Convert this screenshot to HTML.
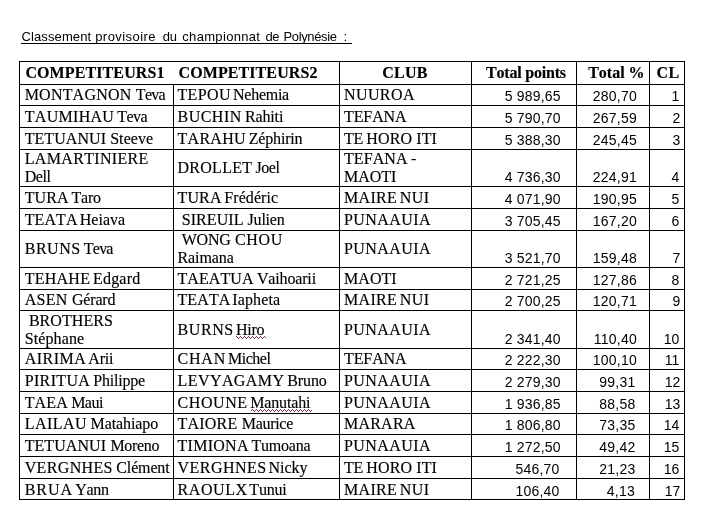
<!DOCTYPE html>
<html lang="fr"><head><meta charset="utf-8"><title>Classement provisoire</title><style>
html,body{margin:0;padding:0;background:#fff;}
body{width:713px;height:529px;position:relative;overflow:hidden;}
.ln{position:absolute;background:#000;}
.sq{position:absolute;left:0;top:0;}
.t{position:absolute;white-space:pre;line-height:20px;color:#000;}
.sf{font-family:"Liberation Serif",serif;font-size:16px;-webkit-text-stroke:0.15px #000;font-kerning:none;}
.b{font-weight:bold;}
.ss{font-family:"Liberation Sans",sans-serif;}
.nm{font-size:14px;}
.tt{font-size:13px;}
</style></head><body>
<div class="ln" style="left:19px;top:61px;width:666px;height:1px"></div>
<div class="ln" style="left:19px;top:84px;width:666px;height:1px"></div>
<div class="ln" style="left:19px;top:105px;width:666px;height:1px"></div>
<div class="ln" style="left:19px;top:127px;width:666px;height:1px"></div>
<div class="ln" style="left:19px;top:149px;width:666px;height:1px"></div>
<div class="ln" style="left:19px;top:186px;width:666px;height:1px"></div>
<div class="ln" style="left:19px;top:208px;width:666px;height:1px"></div>
<div class="ln" style="left:19px;top:230px;width:666px;height:1px"></div>
<div class="ln" style="left:19px;top:267px;width:666px;height:1px"></div>
<div class="ln" style="left:19px;top:289px;width:666px;height:1px"></div>
<div class="ln" style="left:19px;top:310px;width:666px;height:1px"></div>
<div class="ln" style="left:19px;top:348px;width:666px;height:1px"></div>
<div class="ln" style="left:19px;top:369px;width:666px;height:1px"></div>
<div class="ln" style="left:19px;top:391px;width:666px;height:1px"></div>
<div class="ln" style="left:19px;top:413px;width:666px;height:1px"></div>
<div class="ln" style="left:19px;top:434px;width:666px;height:1px"></div>
<div class="ln" style="left:19px;top:456px;width:666px;height:1px"></div>
<div class="ln" style="left:19px;top:478px;width:666px;height:1px"></div>
<div class="ln" style="left:19px;top:499px;width:666px;height:1px"></div>
<div class="ln" style="left:19px;top:61px;width:1px;height:439px"></div>
<div class="ln" style="left:173px;top:84px;width:1px;height:416px"></div>
<div class="ln" style="left:339px;top:61px;width:1px;height:439px"></div>
<div class="ln" style="left:471px;top:61px;width:1px;height:439px"></div>
<div class="ln" style="left:576px;top:61px;width:1px;height:439px"></div>
<div class="ln" style="left:649px;top:61px;width:1px;height:439px"></div>
<div class="ln" style="left:684px;top:61px;width:1px;height:439px"></div>
<span class="t ss tt" style="top:26.50px;left:21.40px;letter-spacing:0.126px;">Classement</span>
<span class="t ss tt" style="top:26.50px;left:95.20px;letter-spacing:0.444px;">provisoire</span>
<span class="t ss tt" style="top:26.50px;left:162.80px;letter-spacing:-0.284px;">du</span>
<span class="t ss tt" style="top:26.50px;left:182.30px;letter-spacing:0.322px;">championnat</span>
<span class="t ss tt" style="top:26.50px;left:265.40px;letter-spacing:-0.434px;">de</span>
<span class="t ss tt" style="top:26.50px;left:283.50px;letter-spacing:-0.364px;">Polynésie</span>
<span class="t ss tt" style="top:26.50px;left:343.60px;letter-spacing:0.775px;">:</span>
<span class="t sf b" style="top:63.00px;left:25.40px;letter-spacing:0.108px;">COMPETITEURS1</span>
<span class="t sf b" style="top:63.00px;left:178.50px;letter-spacing:0.093px;">COMPETITEURS2</span>
<span class="t sf b" style="top:63.00px;left:382.30px;letter-spacing:0.212px;">CLUB</span>
<span class="t sf b" style="top:63.00px;left:486.00px;letter-spacing:-0.204px;">Total points</span>
<span class="t sf b" style="top:63.00px;left:588.20px;letter-spacing:-0.008px;">Total %</span>
<span class="t sf b" style="top:63.00px;left:656.60px;letter-spacing:0.233px;">CL</span>
<span class="t sf" style="top:85.00px;left:24.70px;"><span style="letter-spacing:0.206px">MONTAGNON</span><span style="letter-spacing:0.406px"> </span><span style="letter-spacing:-0.719px">Teva</span></span>
<span class="t sf" style="top:85.00px;left:177.50px;"><span style="letter-spacing:0.350px">TEPOU</span><span style="letter-spacing:-1.750px"> </span><span style="letter-spacing:-0.267px">Nehemia</span></span>
<span class="t sf" style="top:85.00px;left:344.00px;letter-spacing:0.400px;">NUUROA</span>
<span class="t ss nm" style="top:86.00px;right:152.21px;letter-spacing:0.190px;">5 989,65</span>
<span class="t ss nm" style="top:86.00px;right:76.06px;letter-spacing:0.240px;">280,70</span>
<span class="t ss nm" style="top:86.00px;right:33.70px;letter-spacing:0.000px;">1</span>
<span class="t sf" style="top:107.00px;left:24.70px;"><span style="letter-spacing:0.305px">TAUMIHAU</span><span style="letter-spacing:-1.030px"> </span><span style="letter-spacing:-0.571px">Teva</span></span>
<span class="t sf" style="top:107.00px;left:177.50px;"><span style="letter-spacing:0.483px">BUCHIN</span><span style="letter-spacing:-0.717px"> </span><span style="letter-spacing:-0.157px">Rahiti</span></span>
<span class="t sf" style="top:107.00px;left:344.00px;letter-spacing:-0.100px;">TEFANA</span>
<span class="t ss nm" style="top:108.00px;right:152.21px;letter-spacing:0.190px;">5 790,70</span>
<span class="t ss nm" style="top:108.00px;right:76.06px;letter-spacing:0.240px;">267,59</span>
<span class="t ss nm" style="top:108.00px;right:32.70px;letter-spacing:0.000px;">2</span>
<span class="t sf" style="top:129.00px;left:24.70px;"><span style="letter-spacing:0.062px">TETUANUI</span><span style="letter-spacing:0.062px"> </span><span style="letter-spacing:0.087px">Steeve</span></span>
<span class="t sf" style="top:129.00px;left:177.50px;"><span style="letter-spacing:0.283px">TARAHU</span><span style="letter-spacing:-1.117px"> </span><span style="letter-spacing:-0.183px">Zéphirin</span></span>
<span class="t sf" style="top:129.00px;left:344.00px;"><span style="letter-spacing:-0.250px">TE</span><span style="letter-spacing:-0.750px"> </span><span style="letter-spacing:0.121px">HORO ITI</span></span>
<span class="t ss nm" style="top:130.00px;right:152.21px;letter-spacing:0.190px;">5 388,30</span>
<span class="t ss nm" style="top:130.00px;right:76.06px;letter-spacing:0.240px;">245,45</span>
<span class="t ss nm" style="top:130.00px;right:32.70px;letter-spacing:0.000px;">3</span>
<span class="t sf" style="top:149.00px;left:24.70px;letter-spacing:0.336px;">LAMARTINIERE</span>
<span class="t sf" style="top:167.00px;left:24.70px;letter-spacing:-0.400px;">Dell</span>
<span class="t sf" style="top:158.00px;left:177.50px;"><span style="letter-spacing:0.271px">DROLLET</span><span style="letter-spacing:-0.729px"> </span><span style="letter-spacing:-0.490px">Joel</span></span>
<span class="t sf" style="top:149.00px;left:344.00px;"><span style="letter-spacing:0.083px">TEFANA</span><span style="letter-spacing:-0.700px"> </span><span style="letter-spacing:0.000px">-</span></span>
<span class="t sf" style="top:167.00px;left:344.00px;letter-spacing:0.000px;">MAOTI</span>
<span class="t ss nm" style="top:167.00px;right:152.21px;letter-spacing:0.190px;">4 736,30</span>
<span class="t ss nm" style="top:167.00px;right:76.06px;letter-spacing:0.240px;">224,91</span>
<span class="t ss nm" style="top:167.00px;right:33.70px;letter-spacing:0.000px;">4</span>
<span class="t sf" style="top:188.00px;left:24.70px;"><span style="letter-spacing:0.125px">TURA</span><span style="letter-spacing:-1.175px"> </span><span style="letter-spacing:-0.242px">Taro</span></span>
<span class="t sf" style="top:188.00px;left:177.50px;"><span style="letter-spacing:0.125px">TURA</span><span style="letter-spacing:-1.275px"> </span><span style="letter-spacing:0.068px">Frédéric</span></span>
<span class="t sf" style="top:188.00px;left:344.00px;"><span style="letter-spacing:0.312px">MAIRE</span><span style="letter-spacing:-1.462px"> </span><span style="letter-spacing:0.450px">NUI</span></span>
<span class="t ss nm" style="top:189.00px;right:152.21px;letter-spacing:0.190px;">4 071,90</span>
<span class="t ss nm" style="top:189.00px;right:76.06px;letter-spacing:0.240px;">190,95</span>
<span class="t ss nm" style="top:189.00px;right:33.70px;letter-spacing:0.000px;">5</span>
<span class="t sf" style="top:210.00px;left:24.70px;"><span style="letter-spacing:0.100px">TEATA</span><span style="letter-spacing:-1.900px"> </span><span style="letter-spacing:0.020px">Heiava</span></span>
<span class="t sf" style="top:210.00px;left:181.70px;"><span style="letter-spacing:0.071px">SIREUIL</span><span style="letter-spacing:0.071px"> </span><span style="letter-spacing:-0.214px">Julien</span></span>
<span class="t sf" style="top:210.00px;left:344.00px;letter-spacing:0.429px;">PUNAAUIA</span>
<span class="t ss nm" style="top:211.00px;right:152.21px;letter-spacing:0.190px;">3 705,45</span>
<span class="t ss nm" style="top:211.00px;right:76.06px;letter-spacing:0.240px;">167,20</span>
<span class="t ss nm" style="top:211.00px;right:33.70px;letter-spacing:0.000px;">6</span>
<span class="t sf" style="top:239.00px;left:24.70px;"><span style="letter-spacing:0.525px">BRUNS</span><span style="letter-spacing:-0.825px"> </span><span style="letter-spacing:-0.800px">Teva</span></span>
<span class="t sf" style="top:230.00px;left:181.70px;"><span style="letter-spacing:-0.208px">WONG</span><span style="letter-spacing:0.258px"> </span><span style="letter-spacing:0.692px">CHOU</span></span>
<span class="t sf" style="top:248.00px;left:177.50px;letter-spacing:-0.100px;">Raimana</span>
<span class="t sf" style="top:239.00px;left:344.00px;letter-spacing:0.429px;">PUNAAUIA</span>
<span class="t ss nm" style="top:248.00px;right:152.21px;letter-spacing:0.190px;">3 521,70</span>
<span class="t ss nm" style="top:248.00px;right:76.06px;letter-spacing:0.240px;">159,48</span>
<span class="t ss nm" style="top:248.00px;right:32.70px;letter-spacing:0.000px;">7</span>
<span class="t sf" style="top:269.00px;left:24.70px;"><span style="letter-spacing:0.253px">TEHAHE</span><span style="letter-spacing:-1.237px"> </span><span style="letter-spacing:0.203px">Edgard</span></span>
<span class="t sf" style="top:269.00px;left:177.50px;"><span style="letter-spacing:0.071px">TAEATUA</span><span style="letter-spacing:-0.629px"> </span><span style="letter-spacing:-0.159px">Vaihoarii</span></span>
<span class="t sf" style="top:269.00px;left:344.00px;letter-spacing:0.050px;">MAOTI</span>
<span class="t ss nm" style="top:270.00px;right:152.21px;letter-spacing:0.190px;">2 721,25</span>
<span class="t ss nm" style="top:270.00px;right:76.06px;letter-spacing:0.240px;">127,86</span>
<span class="t ss nm" style="top:270.00px;right:33.70px;letter-spacing:0.000px;">8</span>
<span class="t sf" style="top:290.00px;left:24.70px;"><span style="letter-spacing:0.292px">ASEN</span><span style="letter-spacing:0.308px"> </span><span style="letter-spacing:-0.175px">Gérard</span></span>
<span class="t sf" style="top:290.00px;left:177.50px;"><span style="letter-spacing:0.100px">TEATA</span><span style="letter-spacing:-2.300px"> </span><span style="letter-spacing:0.167px">Iapheta</span></span>
<span class="t sf" style="top:290.00px;left:344.00px;"><span style="letter-spacing:0.312px">MAIRE</span><span style="letter-spacing:-1.462px"> </span><span style="letter-spacing:0.450px">NUI</span></span>
<span class="t ss nm" style="top:291.00px;right:152.21px;letter-spacing:0.190px;">2 700,25</span>
<span class="t ss nm" style="top:291.00px;right:76.06px;letter-spacing:0.240px;">120,71</span>
<span class="t ss nm" style="top:291.00px;right:32.70px;letter-spacing:0.000px;">9</span>
<span class="t sf" style="top:311.00px;left:28.90px;letter-spacing:0.057px;">BROTHERS</span>
<span class="t sf" style="top:329.00px;left:24.70px;letter-spacing:0.114px;">Stéphane</span>
<span class="t sf" style="top:320.00px;left:177.50px;"><span style="letter-spacing:0.600px">BURNS</span><span style="letter-spacing:-1.800px"> </span><span style="letter-spacing:-0.267px">Hiro</span></span>
<span class="t sf" style="top:320.00px;left:344.00px;letter-spacing:0.429px;">PUNAAUIA</span>
<span class="t ss nm" style="top:329.00px;right:152.21px;letter-spacing:0.190px;">2 341,40</span>
<span class="t ss nm" style="top:329.00px;right:76.06px;letter-spacing:0.240px;">110,40</span>
<span class="t ss nm" style="top:329.00px;right:33.60px;letter-spacing:0.100px;">10</span>
<span class="t sf" style="top:349.00px;left:24.70px;"><span style="letter-spacing:0.483px">AIRIMA</span><span style="letter-spacing:-2.017px"> </span><span style="letter-spacing:-0.161px">Arii</span></span>
<span class="t sf" style="top:349.00px;left:177.50px;"><span style="letter-spacing:0.792px">CHAN</span><span style="letter-spacing:-2.142px"> </span><span style="letter-spacing:-0.445px">Michel</span></span>
<span class="t sf" style="top:349.00px;left:344.00px;letter-spacing:-0.100px;">TEFANA</span>
<span class="t ss nm" style="top:350.00px;right:152.21px;letter-spacing:0.190px;">2 222,30</span>
<span class="t ss nm" style="top:350.00px;right:76.06px;letter-spacing:0.240px;">100,10</span>
<span class="t ss nm" style="top:350.00px;right:33.60px;letter-spacing:0.100px;">11</span>
<span class="t sf" style="top:371.00px;left:24.70px;"><span style="letter-spacing:0.355px">PIRITUA</span><span style="letter-spacing:-1.062px"> </span><span style="letter-spacing:-0.217px">Philippe</span></span>
<span class="t sf" style="top:371.00px;left:177.50px;"><span style="letter-spacing:0.431px">LEVYAGAMY</span><span style="letter-spacing:-1.319px"> </span><span style="letter-spacing:-0.089px">Bruno</span></span>
<span class="t sf" style="top:371.00px;left:344.00px;letter-spacing:0.429px;">PUNAAUIA</span>
<span class="t ss nm" style="top:372.00px;right:152.21px;letter-spacing:0.190px;">2 279,30</span>
<span class="t ss nm" style="top:372.00px;right:77.56px;letter-spacing:0.240px;">99,31</span>
<span class="t ss nm" style="top:372.00px;right:32.60px;letter-spacing:0.100px;">12</span>
<span class="t sf" style="top:393.00px;left:24.70px;"><span style="letter-spacing:0.125px">TAEA</span><span style="letter-spacing:-0.725px"> </span><span style="letter-spacing:-0.492px">Maui</span></span>
<span class="t sf" style="top:393.00px;left:177.50px;"><span style="letter-spacing:0.583px">CHOUNE</span><span style="letter-spacing:-1.517px"> </span><span style="letter-spacing:-0.140px">Manutahi</span></span>
<span class="t sf" style="top:393.00px;left:344.00px;letter-spacing:0.429px;">PUNAAUIA</span>
<span class="t ss nm" style="top:394.00px;right:152.21px;letter-spacing:0.190px;">1 936,85</span>
<span class="t ss nm" style="top:394.00px;right:77.56px;letter-spacing:0.240px;">88,58</span>
<span class="t ss nm" style="top:394.00px;right:32.60px;letter-spacing:0.100px;">13</span>
<span class="t sf" style="top:414.00px;left:24.70px;"><span style="letter-spacing:0.483px">LAILAU</span><span style="letter-spacing:-0.617px"> </span><span style="letter-spacing:-0.085px">Matahiapo</span></span>
<span class="t sf" style="top:414.00px;left:177.50px;"><span style="letter-spacing:0.203px">TAIORE</span><span style="letter-spacing:0.363px"> </span><span style="letter-spacing:-0.297px">Maurice</span></span>
<span class="t sf" style="top:414.00px;left:344.00px;letter-spacing:0.220px;">MARARA</span>
<span class="t ss nm" style="top:415.00px;right:152.21px;letter-spacing:0.190px;">1 806,80</span>
<span class="t ss nm" style="top:415.00px;right:77.56px;letter-spacing:0.240px;">73,35</span>
<span class="t ss nm" style="top:415.00px;right:33.60px;letter-spacing:0.100px;">14</span>
<span class="t sf" style="top:436.00px;left:24.70px;"><span style="letter-spacing:0.062px">TETUANUI</span><span style="letter-spacing:0.363px"> </span><span style="letter-spacing:-0.333px">Moreno</span></span>
<span class="t sf" style="top:436.00px;left:177.50px;"><span style="letter-spacing:0.271px">TIMIONA</span><span style="letter-spacing:-1.329px"> </span><span style="letter-spacing:-0.212px">Tumoana</span></span>
<span class="t sf" style="top:436.00px;left:344.00px;letter-spacing:0.429px;">PUNAAUIA</span>
<span class="t ss nm" style="top:437.00px;right:152.21px;letter-spacing:0.190px;">1 272,50</span>
<span class="t ss nm" style="top:437.00px;right:77.56px;letter-spacing:0.240px;">49,42</span>
<span class="t ss nm" style="top:437.00px;right:33.60px;letter-spacing:0.100px;">15</span>
<span class="t sf" style="top:458.00px;left:24.70px;"><span style="letter-spacing:0.348px">VERGNHES</span><span style="letter-spacing:-0.523px"> </span><span style="letter-spacing:-0.144px">Clément</span></span>
<span class="t sf" style="top:458.00px;left:177.50px;"><span style="letter-spacing:0.491px">VERGHNES</span><span style="letter-spacing:-2.166px"> </span><span style="letter-spacing:-0.066px">Nicky</span></span>
<span class="t sf" style="top:458.00px;left:344.00px;"><span style="letter-spacing:-0.250px">TE</span><span style="letter-spacing:-0.750px"> </span><span style="letter-spacing:0.121px">HORO ITI</span></span>
<span class="t ss nm" style="top:459.00px;right:153.51px;letter-spacing:0.190px;">546,70</span>
<span class="t ss nm" style="top:459.00px;right:77.56px;letter-spacing:0.240px;">21,23</span>
<span class="t ss nm" style="top:459.00px;right:33.60px;letter-spacing:0.100px;">16</span>
<span class="t sf" style="top:480.00px;left:24.70px;"><span style="letter-spacing:0.958px">BRUA</span><span style="letter-spacing:-1.808px"> </span><span style="letter-spacing:-0.308px">Yann</span></span>
<span class="t sf" style="top:480.00px;left:177.50px;"><span style="letter-spacing:0.583px">RAOULX</span><span style="letter-spacing:-2.317px"> </span><span style="letter-spacing:-0.246px">Tunui</span></span>
<span class="t sf" style="top:480.00px;left:344.00px;"><span style="letter-spacing:0.312px">MAIRE</span><span style="letter-spacing:-1.462px"> </span><span style="letter-spacing:0.450px">NUI</span></span>
<span class="t ss nm" style="top:481.00px;right:153.51px;letter-spacing:0.190px;">106,40</span>
<span class="t ss nm" style="top:481.00px;right:78.06px;letter-spacing:0.240px;">4,13</span>
<span class="t ss nm" style="top:481.00px;right:32.60px;letter-spacing:0.100px;">17</span>
<svg class="sq" width="713" height="529" viewBox="0 0 713 529" shape-rendering="crispEdges"><path d="M236 336h1v1h-1zM237 337h1v1h-1zM238 338h1v1h-1zM239 337h1v1h-1zM240 336h1v1h-1zM241 337h1v1h-1zM242 338h1v1h-1zM243 337h1v1h-1zM244 336h1v1h-1zM245 337h1v1h-1zM246 338h1v1h-1zM247 337h1v1h-1zM248 336h1v1h-1zM249 337h1v1h-1zM250 338h1v1h-1zM251 337h1v1h-1zM252 336h1v1h-1zM253 337h1v1h-1zM254 338h1v1h-1zM255 337h1v1h-1zM256 336h1v1h-1zM257 337h1v1h-1zM258 338h1v1h-1zM259 337h1v1h-1zM260 336h1v1h-1zM261 337h1v1h-1zM262 338h1v1h-1zM263 337h1v1h-1zM264 336h1v1h-1zM265 337h1v1h-1zM251 410h1v1h-1zM252 409h1v1h-1zM253 410h1v1h-1zM254 411h1v1h-1zM255 410h1v1h-1zM256 409h1v1h-1zM257 410h1v1h-1zM258 411h1v1h-1zM259 410h1v1h-1zM260 409h1v1h-1zM261 410h1v1h-1zM262 411h1v1h-1zM263 410h1v1h-1zM264 409h1v1h-1zM265 410h1v1h-1zM266 411h1v1h-1zM267 410h1v1h-1zM268 409h1v1h-1zM269 410h1v1h-1zM270 411h1v1h-1zM271 410h1v1h-1zM272 409h1v1h-1zM273 410h1v1h-1zM274 411h1v1h-1zM275 410h1v1h-1zM276 409h1v1h-1zM277 410h1v1h-1zM278 411h1v1h-1zM279 410h1v1h-1zM280 409h1v1h-1zM281 410h1v1h-1zM282 411h1v1h-1zM283 410h1v1h-1zM284 409h1v1h-1zM285 410h1v1h-1zM286 411h1v1h-1zM287 410h1v1h-1zM288 409h1v1h-1zM289 410h1v1h-1zM290 411h1v1h-1zM291 410h1v1h-1zM292 409h1v1h-1zM293 410h1v1h-1zM294 411h1v1h-1zM295 410h1v1h-1zM296 409h1v1h-1zM297 410h1v1h-1zM298 411h1v1h-1zM299 410h1v1h-1zM300 409h1v1h-1zM301 410h1v1h-1zM302 411h1v1h-1zM303 410h1v1h-1zM304 409h1v1h-1zM305 410h1v1h-1zM306 411h1v1h-1zM307 410h1v1h-1zM308 409h1v1h-1zM309 410h1v1h-1zM310 411h1v1h-1zM311 410h1v1h-1z" fill="#7a3b3f"/></svg>
<div class="ln" style="left:21px;top:43px;width:331px;height:1px"></div>
</body></html>
